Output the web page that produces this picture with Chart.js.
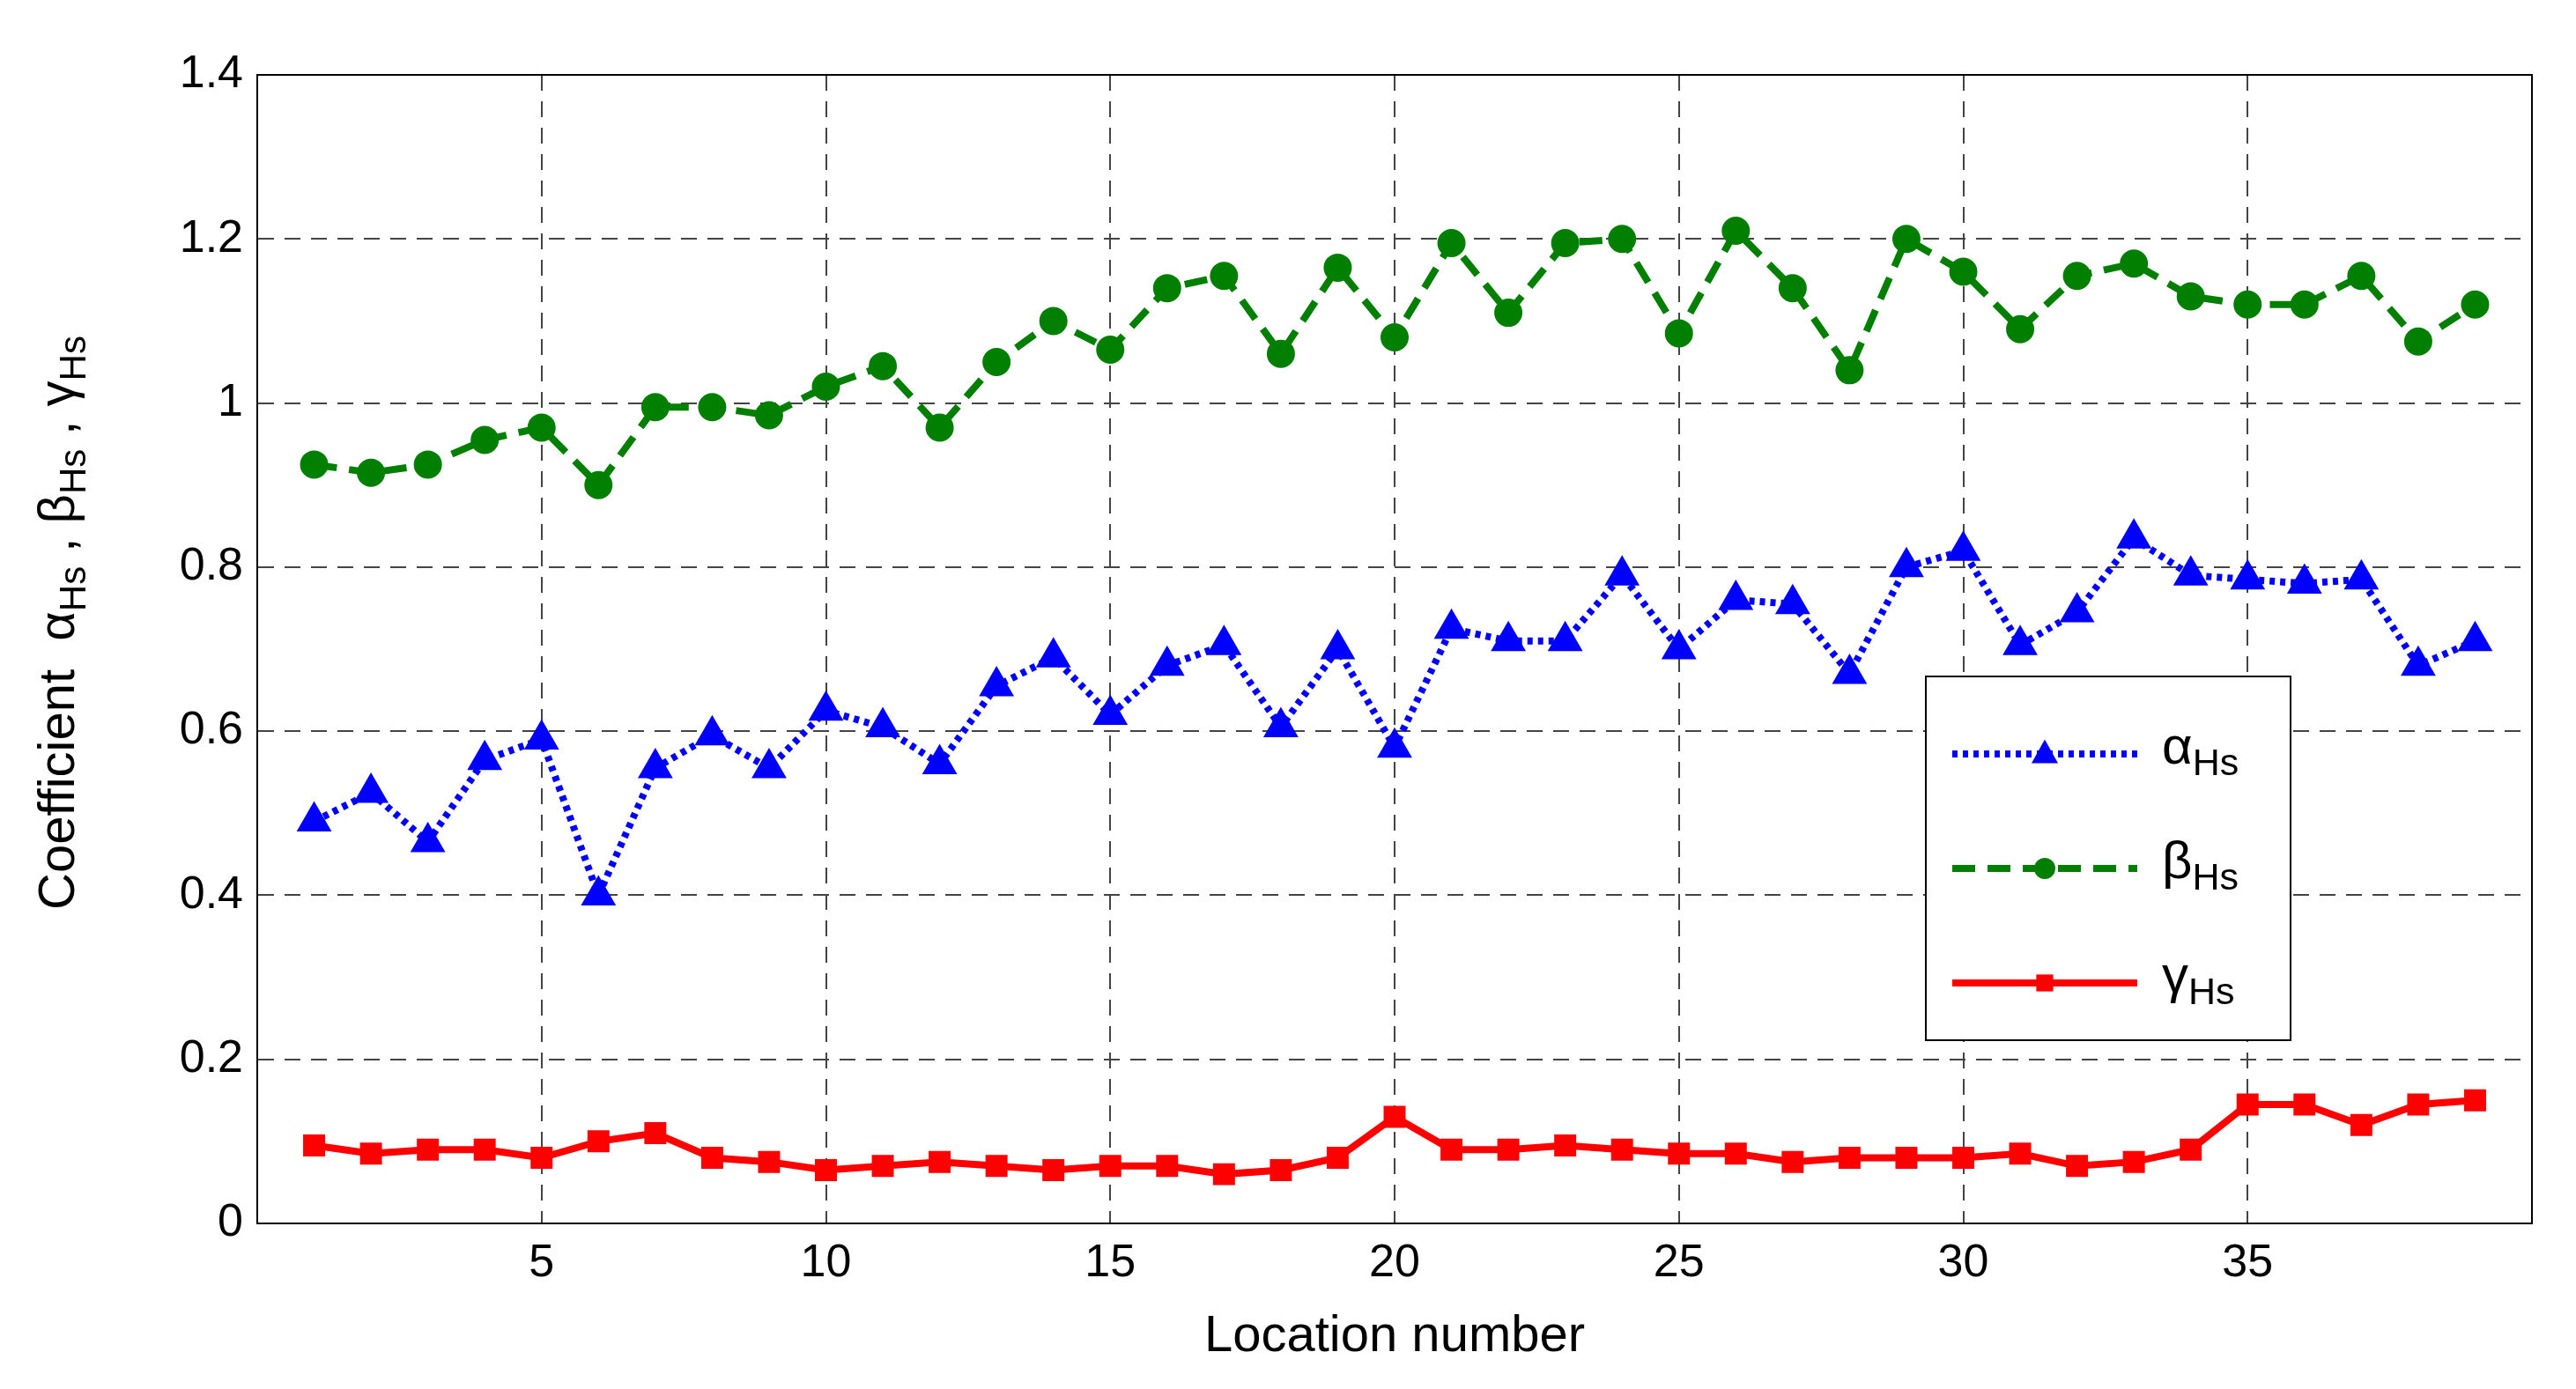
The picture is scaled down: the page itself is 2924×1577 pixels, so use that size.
<!DOCTYPE html>
<html>
<head>
<meta charset="utf-8">
<script src="https://cdn.jsdelivr.net/npm/chart.js@4"></script>
<style>
  html, body { margin: 0; padding: 0; background: #fff; }
  #wrap { width: 2924px; height: 1577px; }
</style>
</head>
<body>
<div id="wrap"><canvas id="c" width="2924" height="1577"></canvas></div>
<script>
// ===== データ =====
const locations = Array.from({ length: 39 }, (_, i) => i + 1);
const alphaHs = [0.49,0.525,0.465,0.565,0.59,0.40,0.555,0.595,0.555,0.625,0.605,0.56,0.655,0.69,0.62,0.68,0.705,0.605,0.70,0.58,0.725,0.71,0.71,0.79,0.70,0.76,0.755,0.67,0.80,0.82,0.705,0.745,0.835,0.79,0.785,0.78,0.785,0.68,0.71];
const betaHs = [0.925,0.915,0.925,0.955,0.97,0.90,0.995,0.995,0.985,1.02,1.045,0.97,1.05,1.10,1.065,1.14,1.155,1.06,1.165,1.08,1.195,1.11,1.195,1.20,1.085,1.21,1.14,1.04,1.20,1.16,1.09,1.155,1.17,1.13,1.12,1.12,1.155,1.075,1.12];
const gammaHs = [0.095,0.085,0.09,0.09,0.08,0.10,0.11,0.08,0.075,0.065,0.07,0.075,0.07,0.065,0.07,0.07,0.06,0.065,0.08,0.13,0.09,0.09,0.095,0.09,0.085,0.085,0.075,0.08,0.08,0.08,0.085,0.07,0.075,0.09,0.145,0.145,0.12,0.145,0.15];
const xTicks = [5, 10, 15, 20, 25, 30, 35];
const seriesNames = ["α", "β", "γ"];

const FONT = "'Liberation Sans', Arial, sans-serif";
const pts = arr => arr.map((v, i) => ({ x: locations[i], y: v }));

// 下付き文字つきテキスト
function subText(ctx, x, y, main, sub, size) {
  ctx.font = size + "px " + FONT;
  ctx.fillText(main, x, y);
  const w = ctx.measureText(main).width;
  ctx.font = Math.round(size * 0.72) + "px " + FONT;
  ctx.fillText(sub, x + w, y + size * 0.3);
  return w + ctx.measureText(sub).width;
}

// 凡例と縦軸タイトル
const deco = {
  id: "deco",
  afterDraw(chart) {
    const ctx = chart.ctx;
    const a = chart.chartArea;
    ctx.save();
    ctx.fillStyle = "#000";
    ctx.textBaseline = "middle";
    // 縦軸タイトル
    ctx.translate(68, (a.top + a.bottom) / 2);
    ctx.rotate(-Math.PI / 2);
    const parts = [["Coefficient  ", ""], ["α", "Hs"], [" , ", ""], ["β", "Hs"], [" , ", ""], ["γ", "Hs"]];
    let total = 0;
    parts.forEach(p => {
      ctx.font = "58px " + FONT; total += ctx.measureText(p[0]).width;
      ctx.font = "42px " + FONT; total += ctx.measureText(p[1]).width;
    });
    let x = -total / 2 + 30;
    parts.forEach(p => { x += subText(ctx, x, 0, p[0], p[1], 58); });
    ctx.restore();

    // 凡例ボックス
    const bx = 2186, by = 768, bw = 414, bh = 413;
    ctx.save();
    ctx.fillStyle = "#fff";
    ctx.fillRect(bx, by, bw, bh);
    ctx.strokeStyle = "#000";
    ctx.lineWidth = 2;
    ctx.strokeRect(bx, by, bw, bh);
    chart.data.datasets.forEach((ds, i) => {
      const yy = by + 88 + i * 130;
      ctx.strokeStyle = ds.borderColor;
      ctx.lineWidth = ds.borderWidth;
      ctx.setLineDash(ds.borderDash || []);
      ctx.beginPath(); ctx.moveTo(bx + 30, yy); ctx.lineTo(bx + 240, yy); ctx.stroke();
      ctx.setLineDash([]);
      ctx.fillStyle = ds.pointBackgroundColor;
      const r = ds.pointRadius, cx = bx + 135;
      ctx.beginPath();
      if (ds.pointStyle === "triangle") {
        ctx.moveTo(cx, yy - r * 1.1); ctx.lineTo(cx + r, yy + r * 0.7); ctx.lineTo(cx - r, yy + r * 0.7); ctx.closePath();
      } else if (ds.pointStyle === "rect") {
        ctx.rect(cx - r * 0.8, yy - r * 0.8, r * 1.6, r * 1.6);
      } else {
        ctx.arc(cx, yy, r, 0, Math.PI * 2);
      }
      ctx.fill();
      ctx.fillStyle = "#000";
      ctx.textBaseline = "middle";
      subText(ctx, bx + 268, yy - 6, seriesNames[i], "Hs", 60);
    });
    ctx.restore();
  }
};

new Chart(document.getElementById("c"), {
  type: "line",
  data: {
    datasets: [
      { data: pts(alphaHs), borderColor: "#0000ff", pointBackgroundColor: "#0000ff", pointBorderColor: "#0000ff",
        borderWidth: 8, borderDash: [6, 6], pointStyle: "triangle", pointRadius: 15 },
      { data: pts(betaHs), borderColor: "#007f00", pointBackgroundColor: "#007f00", pointBorderColor: "#007f00",
        borderWidth: 8, borderDash: [26, 14], pointStyle: "circle", pointRadius: 12 },
      { data: pts(gammaHs), borderColor: "#ff0000", pointBackgroundColor: "#ff0000", pointBorderColor: "#ff0000",
        borderWidth: 8, pointStyle: "rect", pointRadius: 12 }
    ]
  },
  options: {
    responsive: false,
    animation: false,
    layout: { padding: { top: 85, right: 50, bottom: 20, left: 0 } },
    scales: {
      x: {
        type: "linear", min: 0, max: 40,
        afterBuildTicks: s => { s.ticks = xTicks.map(v => ({ value: v })); },
        grid: { color: "#444", lineWidth: 2, drawTicks: false },
        border: { display: true, color: "#000", width: 2, dash: [18, 12] },
        ticks: { color: "#000", font: { family: FONT, size: 52 }, padding: 14 },
        title: { display: true, text: "Location number", color: "#000", font: { family: FONT, size: 58 }, padding: { top: 4 } }
      },
      y: {
        min: 0, max: 1.4,
        afterFit: s => { s.width = 292; },
        grid: { color: "#444", lineWidth: 2, drawTicks: false },
        border: { display: true, color: "#000", width: 2, dash: [18, 12] },
        ticks: { stepSize: 0.2, color: "#000", font: { family: FONT, size: 52 }, padding: 16,
          callback: v => (Math.round(v * 10) / 10).toString() }
      }
    },
    plugins: { legend: { display: false }, tooltip: { enabled: false } }
  },
  plugins: [deco, {
    id: "frame",
    afterDraw(chart) {
      const a = chart.chartArea, ctx = chart.ctx;
      ctx.save(); ctx.strokeStyle = "#000"; ctx.lineWidth = 2; ctx.setLineDash([]);
      ctx.strokeRect(a.left, a.top, a.right - a.left, a.bottom - a.top);
      ctx.restore();
    }
  }]
});
</script>
</body>
</html>
